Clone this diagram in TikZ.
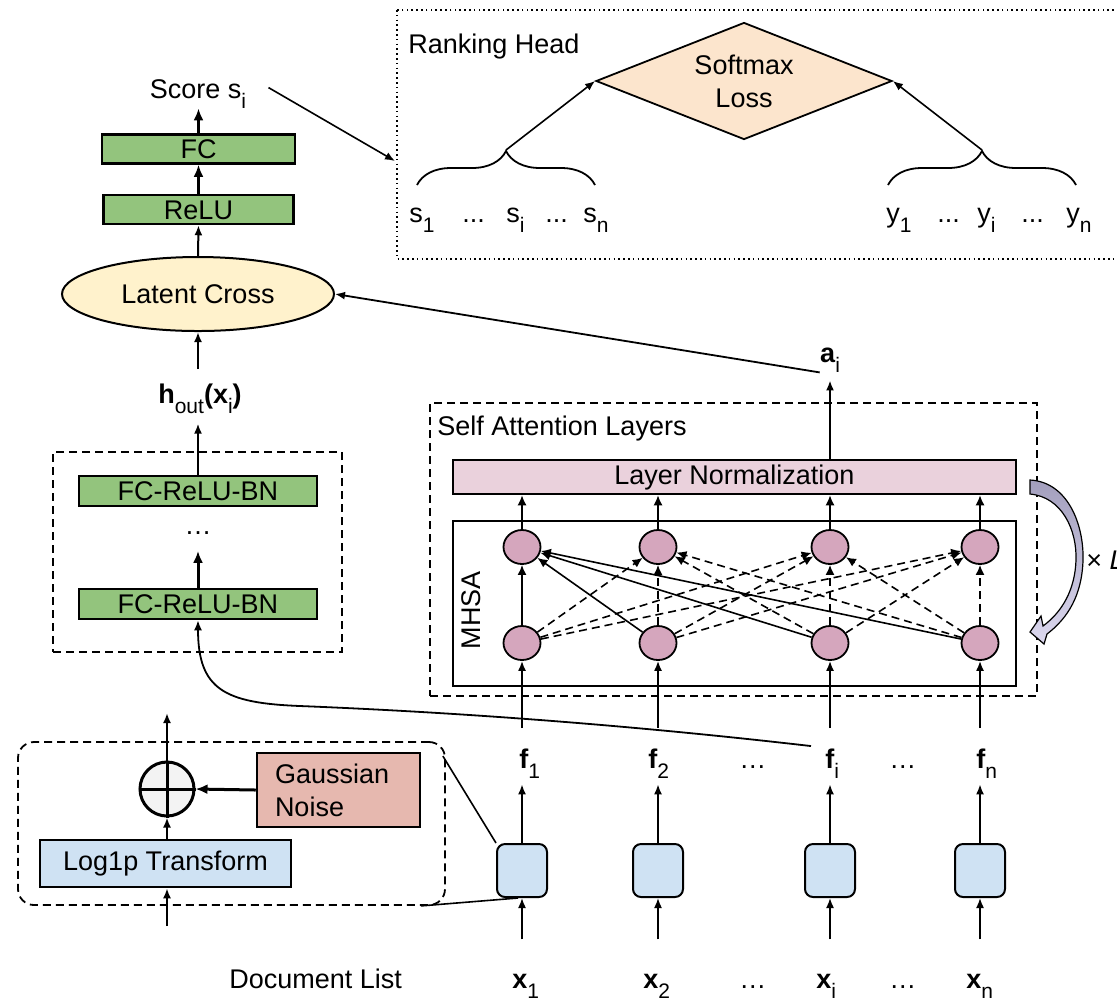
\documentclass[tikz,border=0pt]{standalone}
\usepackage{fontspec}
\setmainfont{Liberation Sans}
\usetikzlibrary{shapes.geometric,arrows.meta,decorations.pathreplacing}

\definecolor{layergreen}{HTML}{93C47D}
\definecolor{crossyellow}{HTML}{FFF2CC}
\definecolor{losspeach}{HTML}{FCE5CD}
\definecolor{normpink}{HTML}{EAD1DC}
\definecolor{headmauve}{HTML}{D5A6BD}
\definecolor{cellblue}{HTML}{CFE2F3}
\definecolor{noisered}{HTML}{E6B8AF}
\definecolor{sumgray}{HTML}{F3F3F3}
\definecolor{loopdark}{HTML}{A39FBD}
\definecolor{looplight}{HTML}{DCD8EF}

% lowered small subscript, as in the labels
\newcommand{\sbs}[1]{\raisebox{-5pt}{\fontsize{10.5pt}{10.5pt}\selectfont #1}}

\begin{document}
\begin{tikzpicture}[x=0.5pt,y=-0.5pt,
  txt/.style={font=\fontsize{13.5pt}{16.5pt}\selectfont, inner sep=0pt},
  bar/.style={txt, draw, line width=1.25pt, fill=layergreen, text height=9.7pt, text depth=0pt},
  cell/.style={draw, line width=1pt, fill=cellblue, rounded corners=4pt,
               minimum width=25pt, minimum height=26.5pt, inner sep=0pt},
  unit/.style={ellipse, draw, line width=0.9pt, fill=headmauve,
               minimum width=18.5pt, minimum height=17pt, inner sep=0pt},
  arr/.style={-{Latex[length=5pt,width=4pt]}, line width=0.8pt},
  thickarr/.style={-{Latex[length=6pt,width=5pt]}, line width=1.5pt},
  attn/.style={-{Latex[length=5pt,width=4.5pt]}, line width=0.8pt},
  attndash/.style={attn, dash pattern=on 4pt off 2.5pt},
  boxdash/.style={draw, line width=1pt, dash pattern=on 4pt off 2.5pt},
]
\useasboundingbox (0,0) rectangle (1117,998);
\clip (0,0) rectangle (1117,998);

% ---------------- scoring tower ----------------
\node[txt, anchor=base] (score) at (198,98) {Score s\sbs{i}};
\node[bar, minimum width=96.5pt, minimum height=14.5pt] (fc) at (198.5,149) {FC};
\node[bar, minimum width=95pt, minimum height=14.5pt] (relu) at (198.5,209.5) {ReLU};
\node[txt, ellipse, draw, line width=1pt, fill=crossyellow, minimum width=136pt,
      minimum height=37pt] (cross) at (198,294) {Latent Cross};
\node[txt, anchor=base] (hout) at (200,403)
  {\textbf{h}\sbs{out}\textbf{(x}\sbs{i}\textbf{)}};

\draw[thickarr] (fc.north) -- (fc.north |- score.south);
\draw[thickarr] (relu.north) -- (fc.south);
\draw[arr, line width=1pt] (cross.north) -- (relu.south);
\draw[arr, line width=1pt, shorten <=7pt] (hout.north -| cross.south) -- (cross.south);

% stacked feature layers
\node[boxdash, minimum width=144.5pt, minimum height=100pt, inner sep=0pt] (stack) at (197.5,552) {};
\node[bar, minimum width=119pt, minimum height=15pt] (fct) at (198,491) {FC-ReLU-BN};
\node[txt] (vdots) at (198,533) {\dots};
\node[bar, minimum width=119pt, minimum height=15pt] (fcb) at (198,604) {FC-ReLU-BN};
\draw[arr, line width=1pt, shorten >=5pt] (fct.north) -- (fct.north |- hout.south);
\draw[thickarr] (fcb.north) -- ([yshift=-8pt]vdots.south);

% ---------------- ranking head ----------------
\draw[line width=0.8pt, dash pattern=on 0.8pt off 1.6pt] (397,10) rectangle (1140,259);
\node[txt, anchor=base west] (rhlabel) at (408,53) {Ranking Head};
\node[txt, diamond, draw, line width=0.9pt, fill=losspeach, shape aspect=2.53,
      minimum width=148pt, minimum height=58.5pt, align=center] (loss) at (744,81)
      {Softmax\\Loss};

\coordinate (sbl) at (417,185);
\coordinate (sbr) at (595,185);
\coordinate (stip) at (506,150);
\coordinate (ybl) at (888,185);
\coordinate (ybr) at (1076,185);
\coordinate (ytip) at (982,150);
\draw[line width=0.9pt, decorate, decoration={brace, amplitude=17pt}] (sbl) -- (sbr);
\draw[line width=0.9pt, decorate, decoration={brace, amplitude=17pt}] (ybl) -- (ybr);
\draw[arr] (stip) -- (loss.west);
\draw[arr] (ytip) -- (loss.east);

\node[txt, anchor=base west] (s1) at (409,222) {s\sbs{1}};
\node[txt, anchor=base west] (sd1) at (462,222) {...};
\node[txt, anchor=base west] (si) at (506,222) {s\sbs{i}};
\node[txt, anchor=base west] (sd2) at (545,222) {...};
\node[txt, anchor=base west] (sn) at (583,222) {s\sbs{n}};
\node[txt, anchor=base west] (y1) at (886,222) {y\sbs{1}};
\node[txt, anchor=base west] (yd1) at (937,222) {...};
\node[txt, anchor=base west] (yi) at (977,222) {y\sbs{i}};
\node[txt, anchor=base west] (yd2) at (1021,222) {...};
\node[txt, anchor=base west] (yn) at (1066,222) {y\sbs{n}};

\coordinate (rhin) at (395,161);
\draw[arr] ([xshift=11pt,yshift=3pt]score.east) -- (rhin);

% ---------------- self attention layers ----------------
\node[boxdash, minimum width=303.5pt, minimum height=146.5pt, inner sep=0pt] (sal) at (733.5,549.5) {};
\node[txt, anchor=base west] (sallabel) at (437,435) {Self Attention Layers};
\node[txt, draw, line width=1.25pt, fill=normpink, minimum width=281.5pt, minimum height=17pt,
      text height=9.7pt, text depth=2.6pt] (ln) at (734.5,477) {Layer Normalization};
\node[draw, line width=1.25pt, minimum width=281.5pt, minimum height=82.5pt, inner sep=0pt] (mhsa) at (734.5,603.5) {};
\node[txt, rotate=90] (mhsalabel) at (471,610) {MHSA};

\foreach \n/\x in {1/522,2/658,3/830,4/980}{
  \node[unit] (t\n) at (\x,547) {};
  \node[unit] (b\n) at (\x,643) {};
}
% attention edges: into the first head solid, the others dashed
\foreach \i in {1,...,4}{
  \draw[attn] (b\i) -- (t1);
}
\foreach \j in {2,3,4}{
  \foreach \i in {1,...,4}{
    \draw[attndash] (b\i) -- (t\j);
  }
}
\foreach \n in {1,...,4}{
  \draw[attn] (t\n.north) -- (t\n.north |- ln.south);
}

\node[txt, anchor=base] (ai) at (830,362) {\textbf{a}\sbs{i}};
\draw[arr, line width=1pt, shorten >=4pt] (t3.north |- ln.north) -- (t3.north |- ai.south);
\draw[arr, line width=0.9pt] (ai.south west) -- (cross.east);

% repeat loop arrow
\shadedraw[top color=loopdark, bottom color=looplight, draw=black, line width=0.6pt]
  (1030,480) .. controls (1068,482) and (1084,525) .. (1083,560)
  .. controls (1082,595) and (1068,618) .. (1047,634)
  -- (1044,644) -- (1030,632) -- (1041,616) -- (1043,626)
  .. controls (1062,612) and (1075,590) .. (1076,560)
  .. controls (1077,530) and (1062,497) .. (1030,494) -- cycle;
\node[txt, anchor=west] (times) at (1086,560) {× \textit{L}};

% ---------------- per-document encoders ----------------
\foreach \n/\x in {1/522,2/658,3/830,4/980}{
  \node[cell] (c\n) at (\x,870.5) {};
}
\node[txt, anchor=base west] (f1) at (519,768) {\textbf{f}\sbs{1}};
\node[txt, anchor=base west] (f2) at (648,768) {\textbf{f}\sbs{2}};
\node[txt, anchor=base west] (fd1) at (739,768) {\dots};
\node[txt, anchor=base west] (fi) at (825,768) {\textbf{f}\sbs{i}};
\node[txt, anchor=base west] (fd2) at (889,768) {\dots};
\node[txt, anchor=base west] (fn) at (976,768) {\textbf{f}\sbs{n}};

\node[txt, anchor=base west] (x1) at (512,988) {\textbf{x}\sbs{1}};
\node[txt, anchor=base west] (x2) at (643,988) {\textbf{x}\sbs{2}};
\node[txt, anchor=base west] (xd1) at (739,988) {\dots};
\node[txt, anchor=base west] (xi) at (816,988) {\textbf{x}\sbs{i}};
\node[txt, anchor=base west] (xd2) at (889,988) {\dots};
\node[txt, anchor=base west] (xn) at (966,988) {\textbf{x}\sbs{n}};
\node[txt, anchor=base west] (doclist) at (229,988) {Document List};

\foreach \n/\f/\x in {1/f1/x1,2/f2/x2,3/fi/xi,4/fn/xn}{
  \draw[arr] ([yshift=17pt]c\n.south |- \x.north) -- (c\n.south);
  \draw[arr] (c\n.north) -- ([yshift=-3pt]c\n.north |- \f.south);
  \draw[arr] ([yshift=10pt]b\n.south |- \f.north) -- (b\n.south);
}

% f_i also feeds the feature tower
\draw[arr, line width=0.9pt] ([xshift=-7pt,yshift=1pt]fi.north west)
  .. controls (620,724) and (450,712) .. (300,706)
  .. controls (225,703) and (198,690) .. (fcb.south);

% ---------------- feature transform (detail) ----------------
\node[draw, line width=0.9pt, dash pattern=on 4pt off 2.5pt, rounded corners=8pt,
      minimum width=213.5pt, minimum height=81.5pt, inner sep=0pt] (prep) at (231.5,823.5) {};
\node[circle, draw, line width=1.5pt, fill=sumgray, minimum size=27pt, inner sep=0pt] (plus) at (167,789) {};
\draw[line width=1.5pt] (plus.north) -- (plus.south) (plus.west) -- (plus.east);
\node[txt, draw, line width=1.25pt, fill=noisered, minimum width=81.5pt, minimum height=37pt,
      inner xsep=9pt, text width=63.5pt, align=left] (noise) at (338.5,790) {Gaussian\\Noise};
\node[txt, draw, line width=1.25pt, fill=cellblue, minimum width=125.5pt, minimum height=23.5pt,
      text height=9.7pt, text depth=2.6pt] (log) at (165.5,863.5) {Log1p Transform};

\coordinate (rawin) at (167,926);
\coordinate (noisyout) at (167,713);
\draw[thickarr] (noise.west) -- (plus.east);
\draw[arr, line width=1pt] (plus.south |- log.north) -- (plus.south);
\draw[arr, line width=1pt] (rawin) -- (plus.south |- log.south);
\draw[arr, line width=1pt] (plus.north) -- (noisyout);

\draw[line width=0.8pt] ([xshift=-1.5pt,yshift=-7.5pt]prep.north east) -- (c1.north west);
\draw[line width=0.8pt] ([xshift=-12.5pt]prep.south east) -- ([xshift=-2pt]c1.south);
\end{tikzpicture}
\end{document}
